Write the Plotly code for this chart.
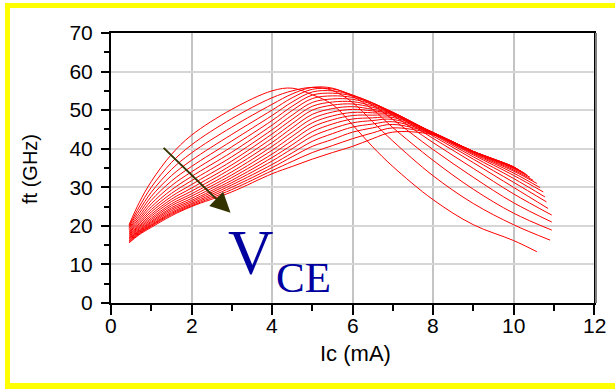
import plotly.graph_objects as go

# Collector-current sample points (mA) shared by every VCE sweep
IC_SAMPLES = [0.45, 0.7, 1.0, 1.5, 2.0, 3.0, 4.0, 4.5, 5.0, 5.5, 6.0, 6.5, 7.0, 8.0, 9.0, 10.0]

# ft (GHz) at each sample current, one value per VCE step (lowest VCE first)
FT_IC_0_45 = [20.3, 20.0, 19.8, 19.5, 19.3, 19.0, 18.8, 18.5, 18.3, 18.0, 17.8, 17.5, 17.3, 17.0, 16.8, 16.6, 16.3, 16.1, 15.8, 15.6]
FT_IC_0_7 = [26.0, 24.9, 24.0, 23.2, 22.5, 21.9, 21.4, 20.9, 20.5, 20.1, 19.8, 19.5, 19.2, 18.9, 18.7, 18.5, 18.3, 18.1, 17.9, 17.7]
FT_IC_1_0 = [31.5, 30.0, 28.7, 27.6, 26.6, 25.7, 24.9, 24.2, 23.6, 23.0, 22.5, 22.0, 21.6, 21.2, 20.9, 20.6, 20.3, 20.1, 19.9, 19.6]
FT_IC_1_5 = [38.5, 36.4, 34.6, 33.0, 31.6, 30.4, 29.3, 28.4, 27.6, 26.9, 26.3, 25.7, 25.2, 24.7, 24.3, 23.9, 23.5, 23.2, 22.9, 22.6]
FT_IC_2_0 = [43.5, 41.0, 38.9, 37.0, 35.4, 34.0, 32.8, 31.7, 30.7, 29.8, 29.0, 28.3, 27.7, 27.1, 26.6, 26.2, 25.8, 25.5, 25.2, 25.0]
FT_IC_3_0 = [50.2, 47.8, 45.6, 43.7, 42.0, 40.5, 39.1, 37.9, 36.8, 35.8, 34.9, 34.0, 33.2, 32.5, 31.8, 31.2, 30.6, 30.0, 29.4, 28.8]
FT_IC_4_0 = [55.0, 53.2, 51.5, 50.0, 48.6, 47.3, 46.1, 44.9, 43.8, 42.7, 41.6, 40.6, 39.6, 38.6, 37.7, 36.8, 35.9, 35.1, 34.3, 33.5]
FT_IC_4_5 = [55.7, 55.0, 54.2, 53.2, 52.1, 51.0, 49.9, 48.7, 47.6, 46.5, 45.4, 44.3, 43.2, 42.1, 41.0, 40.0, 38.9, 37.9, 36.7, 35.4]
FT_IC_5_0 = [54.0, 55.9, 55.9, 55.4, 54.7, 53.9, 53.0, 52.0, 51.0, 50.0, 48.9, 47.8, 46.7, 45.6, 44.4, 43.2, 41.9, 40.6, 39.0, 37.3]
FT_IC_5_5 = [51.5, 55.1, 55.7, 55.5, 55.0, 54.4, 53.7, 52.9, 52.1, 51.3, 50.4, 49.5, 48.5, 47.5, 46.4, 45.2, 43.9, 42.4, 40.8, 39.0]
FT_IC_6_0 = [46.2, 52.0, 53.6, 53.9, 53.9, 53.7, 53.3, 52.8, 52.2, 51.6, 50.9, 50.2, 49.4, 48.6, 47.7, 46.7, 45.6, 44.3, 42.6, 40.6]
FT_IC_6_5 = [40.5, 47.0, 50.2, 51.3, 51.8, 51.9, 51.8, 51.5, 51.1, 50.7, 50.2, 49.8, 49.3, 48.7, 48.0, 47.3, 46.4, 45.4, 44.1, 42.6]
FT_IC_7_0 = [35.4, 42.0, 45.5, 47.6, 48.7, 49.2, 49.4, 49.5, 49.4, 49.3, 49.2, 49.0, 48.8, 48.5, 48.1, 47.6, 47.0, 46.3, 45.4, 44.3]
FT_IC_8_0 = [26.8, 33.0, 37.0, 39.8, 41.6, 42.7, 43.3, 43.7, 43.9, 44.0, 44.1, 44.2, 44.2, 44.2, 44.2, 44.1, 44.0, 43.9, 43.8, 43.6]
FT_IC_9_0 = [20.3, 25.8, 29.5, 32.6, 34.9, 36.4, 37.3, 37.9, 38.4, 38.7, 38.9, 39.1, 39.2, 39.3, 39.3, 39.3, 39.3, 39.3, 39.3, 39.3]
FT_IC_10_0 = [16.2, 20.3, 23.3, 26.0, 28.3, 30.0, 31.3, 32.3, 33.1, 33.7, 34.2, 34.5, 34.8, 35.0, 35.1, 35.2, 35.2, 35.3, 35.3, 35.3]

# Last measured point of each sweep
IC_LAST = [10.58, 10.91, 10.95, 10.95, 10.95, 10.86, 10.82, 10.78, 10.74, 10.66, 10.58, 10.49, 10.41, 10.35, 10.30, 10.25, 10.21, 10.17, 10.13, 10.10]
FT_LAST = [13.3, 16.3, 18.9, 21.0, 22.8, 24.5, 26.2, 27.5, 28.8, 29.9, 31.0, 31.8, 32.6, 33.1, 33.5, 33.8, 34.0, 34.2, 34.4, 34.6]

X_TICKS = [0, 2, 4, 6, 8, 10, 12]
Y_TICKS = [0, 10, 20, 30, 40, 50, 60, 70]

columns = [FT_IC_0_45, FT_IC_0_7, FT_IC_1_0, FT_IC_1_5, FT_IC_2_0, FT_IC_3_0, FT_IC_4_0,
           FT_IC_4_5, FT_IC_5_0, FT_IC_5_5, FT_IC_6_0, FT_IC_6_5, FT_IC_7_0, FT_IC_8_0,
           FT_IC_9_0, FT_IC_10_0]

fig = go.Figure()
for k in range(len(IC_LAST)):
    xs = IC_SAMPLES + [IC_LAST[k]]
    ys = [col[k] for col in columns] + [FT_LAST[k]]
    fig.add_trace(go.Scatter(
        x=xs, y=ys, mode="lines",
        line=dict(color="#ff0000", width=1, shape="spline", smoothing=1.0),
        hoverinfo="skip", showlegend=False,
    ))

W, H = 615, 389
L, R, T, B = 111, 21, 33, 86
pw, ph = W - L - R, H - T - B


def px(xp):
    return (xp - L) / pw


def py(yp):
    return (H - B - yp) / ph


tick_font = dict(family="Liberation Sans, Arial, sans-serif", size=21, color="#000000")
title_font = dict(family="Liberation Sans, Arial, sans-serif", size=22, color="#000000")

axis_common = dict(
    showline=True, linecolor="#000000", linewidth=2, mirror=True,
    ticks="outside", tickcolor="#000000", tickwidth=1.5,
    tickfont=tick_font, zeroline=False,
)

fig.update_xaxes(
    range=[0, 12], tickvals=X_TICKS, ticklen=10, showticklabels=False,
    showgrid=True, gridcolor="#c4c4c4", gridwidth=2,
    minor=dict(dtick=1, ticks="outside", ticklen=6, tickcolor="#000000", showgrid=False),
    **axis_common,
)
fig.update_yaxes(
    range=[0, 70], tickvals=Y_TICKS, ticklen=8, ticklabelstandoff=4,
    showgrid=True, gridcolor="#d6d6d6", gridwidth=1.5,
    minor=dict(dtick=5, ticks="outside", ticklen=5, tickcolor="#000000", showgrid=False),
    **axis_common,
)

shapes = [
    # yellow frame (left, top, bottom)
    dict(type="rect", xref="paper", yref="paper", x0=px(5), x1=px(10), y0=py(389), y1=py(3),
         fillcolor="#ffff00", line=dict(width=0), layer="above"),
    dict(type="rect", xref="paper", yref="paper", x0=px(5), x1=px(620), y0=py(8), y1=py(3),
         fillcolor="#ffff00", line=dict(width=0), layer="above"),
    dict(type="rect", xref="paper", yref="paper", x0=px(5), x1=px(620), y0=py(389), y1=py(383),
         fillcolor="#ffff00", line=dict(width=0), layer="above"),
    # shadow on the right frame edge
    dict(type="line", xref="paper", yref="paper", x0=px(596), x1=px(596), y0=0, y1=1,
         line=dict(color="#808080", width=2), layer="above"),
]

# x tick labels placed just under the axis
annotations = [
    dict(text=str(v), x=v, xref="x", y=py(325), yref="paper", showarrow=False,
         font=tick_font, xanchor="center", yanchor="middle")
    for v in X_TICKS
]

annotations += [
    dict(text="Ic (mA)", xref="paper", yref="paper", x=px(355), y=py(353),
         showarrow=False, font=title_font, xanchor="center", yanchor="middle"),
    dict(text="ft (GHz)", xref="paper", yref="paper", x=px(30), y=py(169),
         showarrow=False, font=dict(title_font, size=20), textangle=-90,
         xanchor="center", yanchor="middle"),
    dict(text="V", xref="paper", yref="paper", x=px(251), y=py(253),
         showarrow=False, xanchor="center", yanchor="middle",
         font=dict(family="Liberation Serif, Times New Roman, serif", size=63, color="#0000a0")),
    dict(text="CE", xref="paper", yref="paper", x=px(303), y=py(277),
         showarrow=False, xanchor="center", yanchor="middle",
         font=dict(family="Liberation Serif, Times New Roman, serif", size=43, color="#0000a0")),
    dict(x=2.97, y=23.4, ax=1.27, ay=40.6, xref="x", yref="y", axref="x", ayref="y",
         text="", showarrow=True, arrowhead=2, arrowsize=2, arrowwidth=2,
         arrowcolor="#333300", standoff=0),
]

fig.update_layout(
    width=W, height=H,
    margin=dict(l=L, r=R, t=T, b=B),
    paper_bgcolor="#ffffff", plot_bgcolor="#ffffff",
    showlegend=False,
    shapes=shapes, annotations=annotations,
)

fig.write_html("out.html")
